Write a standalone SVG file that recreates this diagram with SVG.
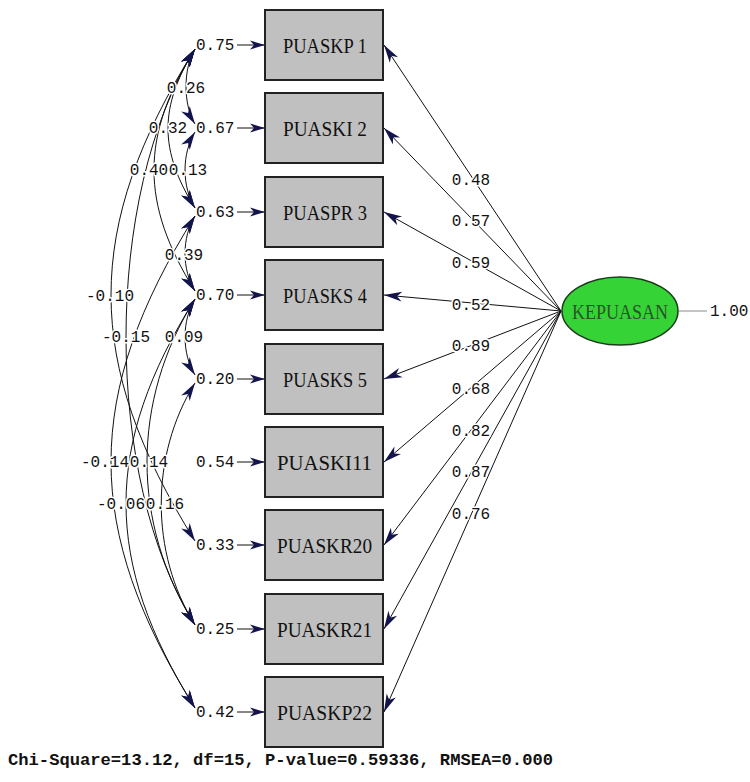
<svg xmlns="http://www.w3.org/2000/svg" width="750" height="782" viewBox="0 0 750 782">
  <style>
    .box { fill: #c0c0c0; stroke: #222; stroke-width: 2; }
    .blab { font-family: "Liberation Serif", "Times New Roman", serif; font-size: 22px; fill: #111; text-anchor: middle; }
    .num { font-family: "Liberation Mono", "Courier New", monospace; font-size: 16px; fill: #111; }
    .halo { paint-order: stroke; stroke: #fff; stroke-width: 3; stroke-linejoin: round; }
    .mid { text-anchor: middle; }
    .ln { fill: none; stroke: #111; stroke-width: 1; }
    .load { marker-end: url(#ah); }
    .cov { marker-start: url(#ah); marker-end: url(#ah); }
    .err { marker-end: url(#ahs); }
  </style>
  <defs>
    <marker id="ah" markerUnits="userSpaceOnUse" markerWidth="22" markerHeight="12" viewBox="-20 -6 22 12" refX="0" refY="0" orient="auto-start-reverse">
      <path d="M0,0 L-18,-5 L-13,0 L-18,5 Z" fill="#14144c"/>
    </marker>
    <marker id="ahs" markerUnits="userSpaceOnUse" markerWidth="18" markerHeight="10" viewBox="-17 -5 18 10" refX="0" refY="0" orient="auto">
      <path d="M0,0 L-15,-4.5 L-11,0 L-15,4.5 Z" fill="#14144c"/>
    </marker>
  </defs>

  <!-- connectors -->
  <g id="connectors">
    <!-- factor loadings: latent variable to indicators -->
    <line class="ln load" x1="561" y1="311" x2="384" y2="45"/>
    <line class="ln load" x1="561" y1="311" x2="384" y2="128"/>
    <line class="ln load" x1="561" y1="311" x2="384" y2="212"/>
    <line class="ln load" x1="561" y1="311" x2="384" y2="295"/>
    <line class="ln load" x1="561" y1="311" x2="384" y2="379"/>
    <line class="ln load" x1="561" y1="311" x2="384" y2="462"/>
    <line class="ln load" x1="561" y1="311" x2="384" y2="545"/>
    <line class="ln load" x1="561" y1="311" x2="384" y2="629"/>
    <line class="ln load" x1="561" y1="311" x2="384" y2="712"/>
    <!-- latent variance -->
    <line x1="679" y1="311" x2="707" y2="311" stroke="#8a8a8a" stroke-width="1"/>

    <!-- error terms into indicators -->
    <line class="ln err" x1="237" y1="45" x2="265" y2="45"/>
    <line class="ln err" x1="237" y1="128" x2="265" y2="128"/>
    <line class="ln err" x1="237" y1="212" x2="265" y2="212"/>
    <line class="ln err" x1="237" y1="295" x2="265" y2="295"/>
    <line class="ln err" x1="237" y1="379" x2="265" y2="379"/>
    <line class="ln err" x1="237" y1="462" x2="265" y2="462"/>
    <line class="ln err" x1="237" y1="545" x2="265" y2="545"/>
    <line class="ln err" x1="237" y1="629" x2="265" y2="629"/>
    <line class="ln err" x1="237" y1="712" x2="265" y2="712"/>

    <!-- error covariances -->
    <path class="ln cov" d="M195,49 C183,68.2 183,104.8 195,124"/>
    <path class="ln cov" d="M195,132 C181.7,153.3 181.7,186.7 195,208"/>
    <path class="ln cov" d="M195,216 C181.7,237.3 181.7,269.7 195,291"/>
    <path class="ln cov" d="M195,299 C181.7,320.3 181.7,353.7 195,375"/>
    <path class="ln cov" d="M195,49 C159,106.6 159,150.4 195,208"/>
    <path class="ln cov" d="M195,49 C140.3,136.5 140.3,203.5 195,291"/>
    <path class="ln cov" d="M195,49 C83,228 83,362 195,541"/>
    <path class="ln cov" d="M195,49 C103,196 103,478 195,625"/>
    <path class="ln cov" d="M195,216 C83,395 83,529 195,708"/>
    <path class="ln cov" d="M195,299 C131,401 131,523 195,625"/>
    <path class="ln cov" d="M195,299 C103,446 103,561 195,708"/>
    <path class="ln cov" d="M195,383 C150,455 150,553 195,625"/>
  </g>

  <!-- loading values -->
  <g id="loading-labels" class="num halo mid">
    <text x="471" y="185">0.48</text>
    <text x="471" y="226">0.57</text>
    <text x="471" y="268">0.59</text>
    <text x="471" y="310">0.52</text>
    <text x="471" y="351">0.89</text>
    <text x="471" y="394">0.68</text>
    <text x="471" y="436">0.82</text>
    <text x="471" y="477">0.87</text>
    <text x="471" y="519">0.76</text>
  </g>

  <!-- covariance values -->
  <g id="covariance-labels" class="num halo mid">
    <text x="186" y="93">0.26</text>
    <text x="168" y="133">0.32</text>
    <text x="149" y="175">0.40</text>
    <text x="188" y="175">0.13</text>
    <text x="184" y="260">0.39</text>
    <text x="110" y="301">-0.10</text>
    <text x="126" y="342">-0.15</text>
    <text x="184" y="342">0.09</text>
    <text x="105" y="467">-0.14</text>
    <text x="149" y="467">0.14</text>
    <text x="121" y="509">-0.06</text>
    <text x="165" y="509">0.16</text>
  </g>

  <!-- error variances -->
  <g id="error-labels" class="num">
    <text x="196" y="50">0.75</text>
    <text x="196" y="133">0.67</text>
    <text x="196" y="217">0.63</text>
    <text x="196" y="300">0.70</text>
    <text x="196" y="384">0.20</text>
    <text x="196" y="467">0.54</text>
    <text x="196" y="550">0.33</text>
    <text x="196" y="634">0.25</text>
    <text x="196" y="717">0.42</text>
  </g>

  <!-- observed indicators -->
  <g id="PUASKP1"><rect class="box" x="265" y="10" width="118" height="70"/><text class="blab" x="325" y="53" textLength="84" lengthAdjust="spacingAndGlyphs">PUASKP 1</text></g>
  <g id="PUASKI2"><rect class="box" x="265" y="93" width="118" height="70"/><text class="blab" x="325" y="136" textLength="84" lengthAdjust="spacingAndGlyphs">PUASKI 2</text></g>
  <g id="PUASPR3"><rect class="box" x="265" y="177" width="118" height="70"/><text class="blab" x="325" y="220" textLength="84" lengthAdjust="spacingAndGlyphs">PUASPR 3</text></g>
  <g id="PUASKS4"><rect class="box" x="265" y="260" width="118" height="70"/><text class="blab" x="325" y="303" textLength="84" lengthAdjust="spacingAndGlyphs">PUASKS 4</text></g>
  <g id="PUASKS5"><rect class="box" x="265" y="344" width="118" height="70"/><text class="blab" x="325" y="387" textLength="84" lengthAdjust="spacingAndGlyphs">PUASKS 5</text></g>
  <g id="PUASKI11"><rect class="box" x="265" y="427" width="118" height="70"/><text class="blab" x="324.5" y="470" textLength="95" lengthAdjust="spacingAndGlyphs">PUASKI11</text></g>
  <g id="PUASKR20"><rect class="box" x="265" y="510" width="118" height="70"/><text class="blab" x="324.5" y="553" textLength="95" lengthAdjust="spacingAndGlyphs">PUASKR20</text></g>
  <g id="PUASKR21"><rect class="box" x="265" y="594" width="118" height="70"/><text class="blab" x="324.5" y="637" textLength="95" lengthAdjust="spacingAndGlyphs">PUASKR21</text></g>
  <g id="PUASKP22"><rect class="box" x="265" y="677" width="118" height="70"/><text class="blab" x="324.5" y="720" textLength="95" lengthAdjust="spacingAndGlyphs">PUASKP22</text></g>

  <!-- latent variable -->
  <g id="KEPUASAN">
    <ellipse cx="620" cy="311" rx="58" ry="34" fill="#36d336" stroke="#1c3a1c" stroke-width="1.5"/>
    <text x="620" y="319" font-family="'Liberation Serif', 'Times New Roman', serif" font-size="21" fill="#2a552a" text-anchor="middle" textLength="96" lengthAdjust="spacingAndGlyphs">KEPUASAN</text>
  </g>
  <text class="num" x="710" y="316">1.00</text>

  <!-- fit statistics -->
  <text x="8" y="765" font-family="'Liberation Mono', 'Courier New', monospace" font-size="17" font-weight="bold" fill="#111" textLength="545" lengthAdjust="spacingAndGlyphs">Chi-Square=13.12, df=15, P-value=0.59336, RMSEA=0.000</text>
</svg>
